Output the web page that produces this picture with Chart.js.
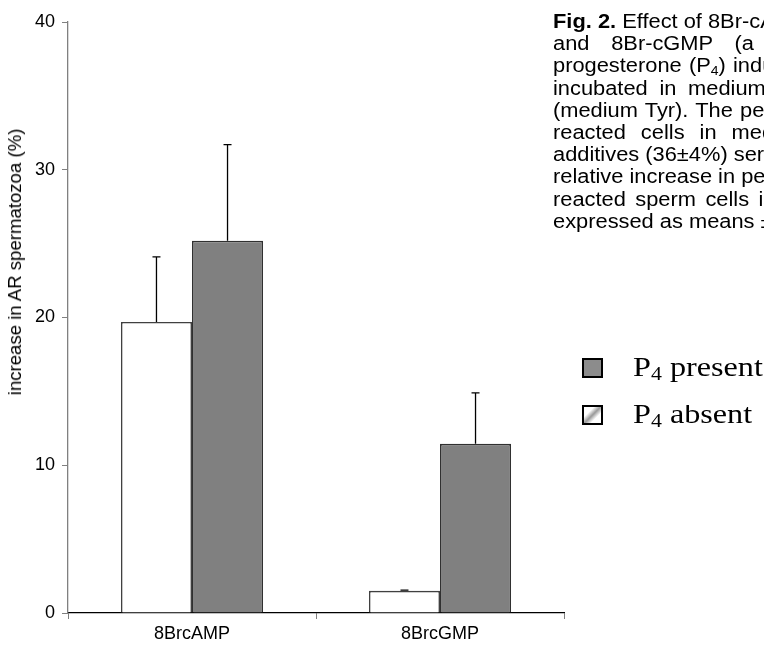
<!DOCTYPE html>
<html>
<head>
<meta charset="utf-8">
<script src="https://cdn.jsdelivr.net/npm/chart.js@4.4.0/dist/chart.umd.min.js"></script>
<style>
  body { margin: 0; background: #fff; }
  #wrap { position: relative; width: 764px; height: 648px; overflow: hidden; }
  #chart { position: absolute; left: 0; top: 0; }
  #ytitle {
    position: absolute; left: 15px; top: 262px;
    transform: translate(-50%, -50%) rotate(-90deg);
    font: 18.6px "Liberation Sans", Arial, sans-serif; white-space: nowrap; color: #000;
  }
  #caption {
    position: absolute; left: 553px; top: 10px; width: 211px; overflow: hidden;
    color: #000;
  }
  #caption .inner {
    font: 19.5px/22.2px "Liberation Sans", Arial, sans-serif;
    transform: scaleX(1.12); transform-origin: 0 0; width: 400px;
  }
  #caption .inner div { white-space: nowrap; }
  #caption sub { font-size: 12.5px; vertical-align: -3px; line-height: 0; }
  .leg { position: absolute; left: 582px; width: 182px; height: 30px; overflow: hidden; }
  .leg .box { position: absolute; left: 0; top: 0; width: 17px; height: 16px; border: 2px solid #000; }
  .leg .t {
    position: absolute; left: 51px; top: -7px; white-space: nowrap;
    font: 28px "Liberation Serif", "Times New Roman", serif;
    transform: scaleX(1.15); transform-origin: 0 0;
  }
  .leg sub { font-size: 19px; vertical-align: -4px; line-height: 0; }
</style>
</head>
<body>
<div id="wrap">
  <canvas id="chart" width="764" height="648"></canvas>
  <div id="ytitle">increase in AR spermatozoa (%)</div>
  <div id="caption"><div class="inner">
    <div><b>Fig. 2.</b> Effect of 8Br-cAMP</div>
    <div style="word-spacing:14px">and 8Br-cGMP (a</div>
    <div style="word-spacing:1px">progesterone (P<sub>4</sub>) induced</div>
    <div style="word-spacing:5px">incubated in medium</div>
    <div style="word-spacing:1px">(medium Tyr). The percentage</div>
    <div style="word-spacing:8px">reacted cells in medium</div>
    <div style="word-spacing:0px">additives (36±4%) served</div>
    <div style="word-spacing:0px">relative increase in percentage</div>
    <div style="word-spacing:3px">reacted sperm cells is</div>
    <div>expressed as means ± SEM</div>
  </div></div>
  <div class="leg" style="top:358px"><div class="box" style="background:#8c8c8c"></div><span class="t">P<sub>4</sub> present</span></div>
  <div class="leg" style="top:405px"><div class="box" style="background:linear-gradient(135deg,#fff 30%,#999 50%,#fff 70%)"></div><span class="t">P<sub>4</sub> absent</span></div>
</div>
<script>
const categories = ['8BrcAMP', '8BrcGMP'];
const absentValues = [19.7, 1.5];
const absentErrors = [4.4, 0.05];
const presentValues = [25.2, 11.45];
const presentErrors = [6.5, 3.45];
const yTicks = [0, 10, 20, 30, 40];

const tickFont = { family: '"Liberation Sans", Arial, sans-serif', size: 18 };

// error bars, upward only, drawn through the y scale
const errorBars = {
  id: 'errorBars',
  afterDatasetsDraw(chart) {
    const ctx = chart.ctx;
    const y = chart.scales.y;
    chart.data.datasets.forEach((ds, i) => {
      chart.getDatasetMeta(i).data.forEach((bar, j) => {
        const top = y.getPixelForValue(ds.data[j] + ds.errors[j]);
        ctx.save();
        ctx.strokeStyle = '#000';
        ctx.lineWidth = 1.3;
        ctx.beginPath();
        ctx.moveTo(bar.x, bar.y);
        ctx.lineTo(bar.x, top);
        ctx.moveTo(bar.x - 4, top);
        ctx.lineTo(bar.x + 4, top);
        ctx.stroke();
        ctx.restore();
      });
    });
  }
};

new Chart(document.getElementById('chart').getContext('2d'), {
  type: 'bar',
  data: {
    labels: categories,
    datasets: [
      { label: 'P4 absent', data: absentValues, errors: absentErrors,
        backgroundColor: '#ffffff', borderColor: '#404040', borderWidth: 1.6 },
      { label: 'P4 present', data: presentValues, errors: presentErrors,
        backgroundColor: '#808080', borderColor: '#303030', borderWidth: 1.6 },
    ],
  },
  options: {
    responsive: false,
    animation: false,
    categoryPercentage: 0.573,
    barPercentage: 1,
    layout: { padding: { left: 0, right: 200, top: 22, bottom: 0 } },
    plugins: { legend: { display: false }, tooltip: { enabled: false } },
    scales: {
      x: {
        grid: { offset: true, drawOnChartArea: false, tickLength: 6, tickColor: '#808080' },
        border: { color: '#000', width: 1.3 },
        ticks: { color: '#000', font: tickFont, padding: 4 },
        afterFit(s) { s.height = 35; },
      },
      y: {
        min: 0,
        max: 40,
        afterBuildTicks(s) { s.ticks = yTicks.map(v => ({ value: v })); },
        ticks: { color: '#000', font: tickFont, padding: 7 },
        grid: { drawOnChartArea: false, tickLength: 6, tickColor: '#808080' },
        border: { color: '#808080', width: 1.3 },
        afterFit(s) { s.width = 68; },
      },
    },
  },
  plugins: [errorBars],
});
</script>
</body>
</html>
